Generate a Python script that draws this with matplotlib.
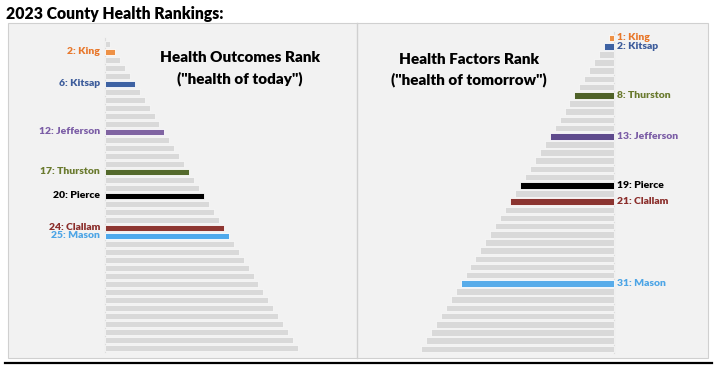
import numpy as np
import matplotlib
matplotlib.use("Agg")
import matplotlib.pyplot as plt
from matplotlib.patches import Rectangle

plt.rcParams['font.family'] = ['Lato', 'DejaVu Sans']

# Washington has 39 counties, ranked 1..39
ranks = np.arange(1, 40)

# Highlighted counties: (name, outcomes rank, factors rank)
counties = ['King', 'Kitsap', 'Jefferson', 'Thurston', 'Pierce', 'Clallam', 'Mason']
outcome_rank = [2, 6, 12, 17, 20, 24, 25]
factor_rank = [1, 2, 13, 8, 19, 21, 31]

left_bar_colors = ['#EE9146', '#3E62A3', '#8064A2', '#546A2C', '#000000', '#8E3631', '#4FA9EC']
right_bar_colors = ['#EE9146', '#3E62A3', '#5E4A8C', '#4F6228', '#000000', '#8B3430', '#58ACEA']
label_colors = ['#E8782C', '#3D5C9B', '#7B5DA6', '#6A7A2E', '#000000', '#8B2E2B', '#4DA5E6']

gray = '#D9D9D9'
W, H = 720, 373

fig = plt.figure(figsize=(7.2, 3.73), dpi=100, facecolor='white')

def fx(px):
    return px / W

def fy(py):
    return 1 - py / H

# panel background box
fig.patches.append(Rectangle((fx(8), fy(358)), fx(700), (358 - 23) / H,
                             transform=fig.transFigure, facecolor='#F2F2F2',
                             edgecolor='#D0D0D0', lw=0.8, zorder=-5))
# divider between panels
fig.add_artist(plt.Line2D([fx(357), fx(357)], [fy(358), fy(23)],
                          transform=fig.transFigure, color='#D0D0D0', lw=1.0, zorder=-4))
# bottom rule
fig.add_artist(plt.Line2D([fx(5), fx(712)], [fy(363), fy(363)],
                          transform=fig.transFigure, color='black', lw=1.6))

fig.text(fx(6), fy(14), '2023 County Health Rankings:', fontsize=11.3,
         fontweight='heavy', va='center', ha='left')

scale = 4.95  # px per rank unit

# ---- left panel: Health Outcomes ----
ax1 = fig.add_axes([fx(8), fy(358), fx(349), (358 - 23) / H])
ax1.set_facecolor('none')
ax1.set_xlim(-97 / scale, (349 - 97) / scale)
sp1 = 8.0
ax1.set_ylim(1 + (358 - 44) / sp1, 1 - (44 - 23) / sp1)
ax1.axis('off')

hl1 = dict(zip(outcome_rank, range(len(counties))))
for r in ranks:
    if r in hl1:
        i = hl1[r]
        ax1.barh(r, r, left=0, height=0.85, color=left_bar_colors[i],
                 edgecolor='white', lw=0.6, zorder=3)
        ax1.text(-1.0, r, f'{r}: {counties[i]}', ha='right', va='center',
                 fontsize=7.5, fontweight='heavy', color=label_colors[i])
    else:
        ax1.barh(r, r, left=0, height=0.8, color=gray,
                 edgecolor='#FAFAFA', lw=0.5, zorder=2)
ax1.plot([0, 0], [0.3, 39.5], color='#DDDDDD', lw=0.8, zorder=1)

ax1.text(232 / scale - 97 / scale, 1 + (58 - 44) / sp1, 'Health Outcomes Rank',
         ha='center', va='center', fontsize=11, fontweight='heavy')
ax1.text(232 / scale - 97 / scale, 1 + (79 - 44) / sp1, '("health of today")',
         ha='center', va='center', fontsize=11, fontweight='heavy')

# ---- right panel: Health Factors ----
ax2 = fig.add_axes([fx(357), fy(358), fx(351), (358 - 23) / H])
ax2.set_facecolor('none')
ax2.set_xlim(-257 / scale, (351 - 257) / scale)
sp2 = 8.18
ax2.set_ylim(1 + (358 - 38) / sp2, 1 - (38 - 23) / sp2)
ax2.axis('off')

hl2 = dict(zip(factor_rank, range(len(counties))))
for r in ranks:
    if r in hl2:
        i = hl2[r]
        ax2.barh(r, r, left=-r, height=0.85, color=right_bar_colors[i],
                 edgecolor='white', lw=0.6, zorder=3)
        ax2.text(0.6, r, f'{r}: {counties[i]}', ha='left', va='center',
                 fontsize=7.5, fontweight='heavy', color=label_colors[i])
    else:
        ax2.barh(r, r, left=-r, height=0.8, color=gray,
                 edgecolor='#FAFAFA', lw=0.5, zorder=2)
ax2.plot([0, 0], [0.3, 39.5], color='#DDDDDD', lw=0.8, zorder=1)

ax2.text((469 - 357) / scale - 257 / scale, 1 + (59 - 38) / sp2, 'Health Factors Rank',
         ha='center', va='center', fontsize=11, fontweight='heavy')
ax2.text((469 - 357) / scale - 257 / scale, 1 + (80 - 38) / sp2, '("health of tomorrow")',
         ha='center', va='center', fontsize=11, fontweight='heavy')

fig.savefig('out.png', dpi=100, facecolor='white')
